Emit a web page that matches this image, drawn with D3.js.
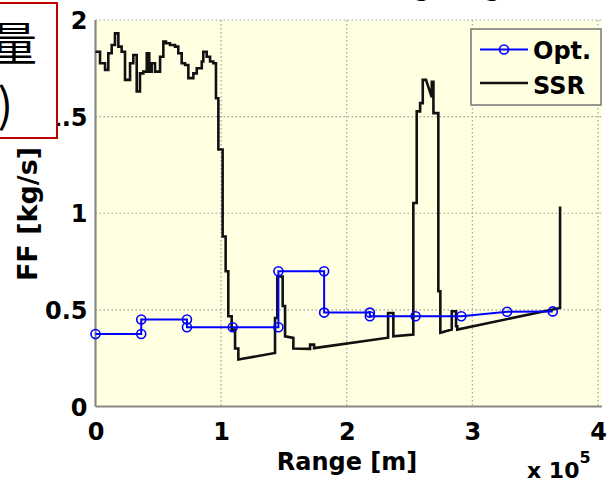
<!DOCTYPE html>
<html>
<head>
<meta charset="utf-8">
<script src="https://cdnjs.cloudflare.com/ajax/libs/d3/7.8.5/d3.min.js"></script>
<style>
  body { margin: 0; background: #fff; }
  svg { display: block; font-family: "DejaVu Sans", sans-serif; font-weight: bold; }
</style>
</head>
<body>
<div id="chart"></div>
<script>
// ticks (range in units of 1e5 m)
const xTicks = [0, 1, 2, 3, 4];
const yTicks = [0, 0.5, 1, 1.5, 2];

// Opt. (blue, markers) - range x1e5 m, FF kg/s
const optRange = [0, 0.364, 0.364, 0.728, 0.728, 1.092, 1.456, 1.456, 1.82, 1.82, 2.184, 2.184, 2.548, 2.912, 3.276, 3.64];
const optFF    = [0.375, 0.375, 0.45, 0.45, 0.41, 0.41, 0.41, 0.70, 0.70, 0.486, 0.486, 0.467, 0.467, 0.467, 0.49, 0.492];

// SSR (black) - vertices, repeated range = vertical jump
const ssrRange = [0, 0.036, 0.036, 0.076, 0.076, 0.102, 0.102, 0.129, 0.129, 0.155, 0.155, 0.182, 0.182, 0.208, 0.208, 0.235,
  0.235, 0.275, 0.275, 0.301, 0.301, 0.328, 0.328, 0.354, 0.354, 0.381, 0.381, 0.408, 0.408, 0.428, 0.428, 0.447,
  0.447, 0.474, 0.474, 0.514, 0.514, 0.54, 0.54, 0.561, 0.561, 0.593, 0.593, 0.633, 0.633, 0.659, 0.659, 0.686,
  0.686, 0.713, 0.713, 0.739, 0.739, 0.779, 0.779, 0.806, 0.806, 0.846, 0.846, 0.858, 0.858, 0.885, 0.885, 0.912,
  0.912, 0.938, 0.938, 0.959, 0.959, 0.978, 0.978, 1.012, 1.012, 1.036, 1.036, 1.057, 1.057, 1.084, 1.084, 1.111,
  1.111, 1.137, 1.137, 1.429, 1.429, 1.447, 1.447, 1.49, 1.49, 1.509, 1.509, 1.575, 1.575, 1.708, 1.708, 1.74,
  1.74, 2.329, 2.329, 2.371, 2.371, 2.53, 2.53, 2.557, 2.557, 2.584, 2.584, 2.605, 2.605, 2.631, 2.677, 2.677,
  2.69, 2.69, 2.729, 2.729, 2.745, 2.745, 2.836, 2.836, 2.87, 2.87, 2.88, 2.88, 3.698, 3.698];
const ssrFF = [1.836, 1.836, 1.776, 1.776, 1.742, 1.742, 1.828, 1.828, 1.871, 1.871, 1.931, 1.931, 1.862, 1.862, 1.836, 1.836,
  1.69, 1.69, 1.776, 1.776, 1.819, 1.819, 1.63, 1.63, 1.724, 1.724, 1.733, 1.733, 1.828, 1.828, 1.733, 1.733,
  1.776, 1.776, 1.733, 1.733, 1.81, 1.81, 1.888, 1.888, 1.88, 1.88, 1.871, 1.871, 1.862, 1.862, 1.828, 1.828,
  1.776, 1.776, 1.767, 1.767, 1.699, 1.699, 1.724, 1.724, 1.75, 1.75, 1.785, 1.785, 1.836, 1.836, 1.81, 1.81,
  1.785, 1.785, 1.776, 1.776, 1.595, 1.595, 1.33, 1.33, 0.88, 0.88, 0.70, 0.70, 0.467, 0.467, 0.398, 0.398,
  0.30, 0.30, 0.243, 0.277, 0.458, 0.458, 0.673, 0.673, 0.52, 0.52, 0.363, 0.355, 0.30, 0.298, 0.32, 0.32,
  0.302, 0.356, 0.484, 0.484, 0.363, 0.372, 1.053, 1.053, 1.527, 1.527, 1.57, 1.57, 1.69, 1.69, 1.60, 1.68,
  1.68, 1.518, 1.518, 0.596, 0.596, 0.381, 0.398, 0.493, 0.493, 0.415, 0.415, 0.398, 0.51, 1.035];

const optData = optRange.map((r, i) => ({ r: r, ff: optFF[i] }));
const ssrData = ssrRange.map((r, i) => ({ r: r, ff: ssrFF[i] }));

const W = 611, H = 483;
const margin = { top: 20, right: 13, bottom: 76.5, left: 95.5 };
const width = W - margin.left - margin.right;
const height = H - margin.top - margin.bottom;

const x = d3.scaleLinear().domain([0, 4]).range([0, width]);
const y = d3.scaleLinear().domain([0, 2]).range([height, 0]);

const svg = d3.select("#chart").append("svg")
  .attr("width", W)
  .attr("height", H);

// title, almost all of it above the picture's top edge
svg.append("text")
  .attr("x", 372).attr("y", -4)
  .attr("text-anchor", "middle")
  .attr("font-size", 24)
  .text("Fuel flow along range");

const g = svg.append("g")
  .attr("transform", `translate(${margin.left},${margin.top})`);

g.append("rect")
  .attr("width", width + 4)
  .attr("height", height)
  .attr("fill", "#ffffe2");

// dotted grid
g.append("g").selectAll("line")
  .data(xTicks.slice(1))
  .join("line")
  .attr("x1", d => x(d)).attr("x2", d => x(d))
  .attr("y1", 0).attr("y2", height)
  .attr("stroke", "#a0a0a0")
  .attr("stroke-width", 1.2)
  .attr("stroke-dasharray", "1.5,2.5");

g.append("g").selectAll("line")
  .data(yTicks.slice(1))
  .join("line")
  .attr("x1", 0).attr("x2", width + 4)
  .attr("y1", d => y(d)).attr("y2", d => y(d))
  .attr("stroke", "#a0a0a0")
  .attr("stroke-width", 1.2)
  .attr("stroke-dasharray", "1.5,2.5");

// axes labels
const xAxis = d3.axisBottom(x).tickValues(xTicks).tickSize(0).tickPadding(12).tickFormat(d3.format("d"));
const yAxis = d3.axisLeft(y).tickValues(yTicks).tickSize(0).tickPadding(8).tickFormat(d => String(d));

const gx = g.append("g").attr("transform", `translate(0,${height})`).call(xAxis);
const gy = g.append("g").call(yAxis);
[gx, gy].forEach(a => {
  a.select(".domain").remove();
  a.selectAll("text").attr("font-size", 24).attr("font-family", "DejaVu Sans").attr("font-weight", "bold").attr("fill", "#000");
});
gx.selectAll("text").attr("dy", "0.9em");
gy.selectAll("text").attr("dy", "0.36em");

// axis lines
g.append("line").attr("x1", 0).attr("x2", 0).attr("y1", 0).attr("y2", height)
  .attr("stroke", "#888").attr("stroke-width", 2.2);
g.append("line").attr("x1", 0).attr("x2", width + 4).attr("y1", height).attr("y2", height)
  .attr("stroke", "#888").attr("stroke-width", 2.2);

// series
const line = d3.line().x(d => x(d.r)).y(d => y(d.ff));

g.append("path")
  .datum(ssrData)
  .attr("d", line)
  .attr("fill", "none")
  .attr("stroke", "#111")
  .attr("stroke-width", 2.6)
  .attr("stroke-linejoin", "miter");

g.append("path")
  .datum(optData)
  .attr("d", line)
  .attr("fill", "none")
  .attr("stroke", "#0000ff")
  .attr("stroke-width", 2);

g.append("g").selectAll("circle")
  .data(optData)
  .join("circle")
  .attr("cx", d => x(d.r))
  .attr("cy", d => y(d.ff))
  .attr("r", 4.5)
  .attr("fill", "none")
  .attr("stroke", "#0000ff")
  .attr("stroke-width", 1.6);

// legend
const leg = svg.append("g").attr("transform", "translate(471,29)");
leg.append("rect")
  .attr("width", 130).attr("height", 76)
  .attr("fill", "#ffffe2")
  .attr("stroke", "#777")
  .attr("stroke-width", 1.5);
leg.append("line").attr("x1", 9).attr("x2", 57).attr("y1", 20.5).attr("y2", 20.5)
  .attr("stroke", "#0000ff").attr("stroke-width", 2);
leg.append("circle").attr("cx", 33).attr("cy", 20.5).attr("r", 4.5)
  .attr("fill", "none").attr("stroke", "#0000ff").attr("stroke-width", 1.6);
leg.append("text").attr("x", 62).attr("y", 30).attr("font-size", 24).text("Opt.");
leg.append("line").attr("x1", 9).attr("x2", 57).attr("y1", 54).attr("y2", 54)
  .attr("stroke", "#111").attr("stroke-width", 2.6);
leg.append("text").attr("x", 62).attr("y", 65).attr("font-size", 24).text("SSR");

// axis titles
svg.append("text")
  .attr("x", 347).attr("y", 470)
  .attr("text-anchor", "middle")
  .attr("font-size", 24)
  .text("Range [m]");

const mult = svg.append("text").attr("x", 527).attr("y", 478).attr("font-size", 22);
mult.append("tspan").text("x 10");
mult.append("tspan").attr("dy", -15).attr("font-size", 16).text("5");

svg.append("text")
  .attr("transform", "translate(37,214) rotate(-90)")
  .attr("text-anchor", "middle")
  .attr("font-size", 27)
  .text("FF [kg/s]");

// red boxed note from the slide, cut off at the left edge
svg.append("rect")
  .attr("x", -10).attr("y", 3)
  .attr("width", 67).attr("height", 135)
  .attr("fill", "#fff")
  .attr("stroke", "#c00000")
  .attr("stroke-width", 2);
svg.append("text")
  .attr("x", 37).attr("y", 60)
  .attr("text-anchor", "end")
  .attr("font-family", "Noto Sans CJK JP")
  .attr("font-weight", "normal")
  .attr("font-size", 46)
  .text("流量");
svg.append("text")
  .attr("x", 13).attr("y", 122)
  .attr("text-anchor", "end")
  .attr("font-family", "Noto Sans CJK JP")
  .attr("font-weight", "normal")
  .attr("font-size", 46)
  .text("(kg/s)");
</script>
</body>
</html>
